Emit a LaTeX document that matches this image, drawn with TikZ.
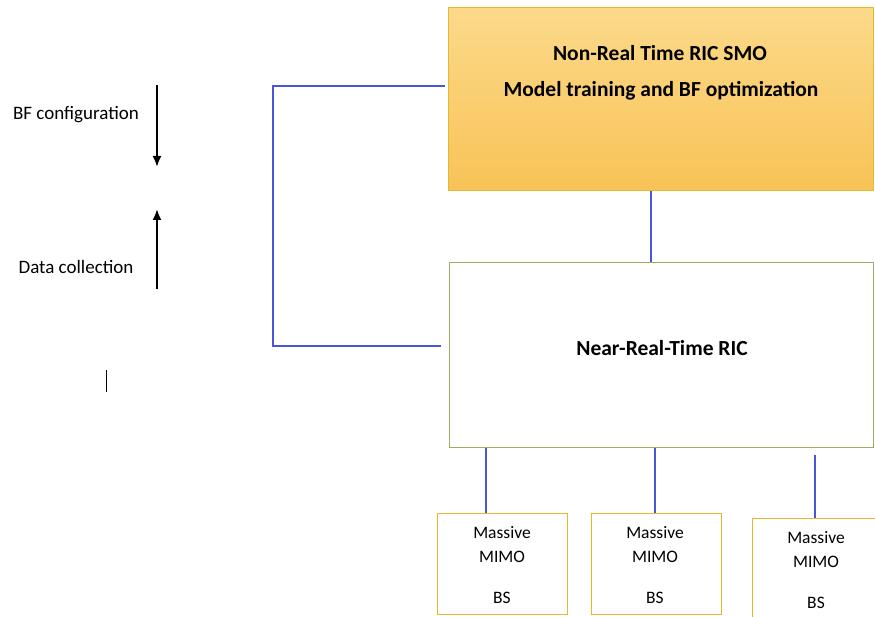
\documentclass[tikz,border=0pt]{standalone}
\usepackage{fontspec}
\setmainfont{Carlito}
\usetikzlibrary{arrows.meta}
\definecolor{smoTop}{HTML}{FCD98A}
\definecolor{smoBot}{HTML}{F8C357}
\definecolor{goldEdge}{HTML}{E9B72E}
\definecolor{oliveEdge}{HTML}{9AAE62}
\definecolor{linkBlue}{HTML}{4A56D8}
\begin{document}
\begin{tikzpicture}[x=1pt,y=-1pt,
  smobox/.style={draw=goldEdge,line width=1pt,top color=smoTop,bottom color=smoBot,
    minimum width=425pt,minimum height=183pt,inner sep=0pt,anchor=north west},
  ricbox/.style={draw=oliveEdge,line width=1pt,fill=white,
    minimum width=424pt,minimum height=185pt,inner sep=0pt,anchor=north west},
  bsbox/.style={draw=goldEdge,line width=1.2pt,fill=white,
    minimum width=130pt,minimum height=101pt,inner sep=0pt,anchor=north west},
  link/.style={draw=linkBlue,line width=1.1pt},
  flow/.style={draw=black,line width=2pt,-{Latex[length=11pt,width=9pt]}},
  boldtxt/.style={font=\fontsize{21.5}{25}\selectfont\bfseries},
  plain/.style={font=\fontsize{19}{22}\selectfont},
  bstxt/.style={font=\fontsize{17.5}{21}\selectfont}]
\useasboundingbox (0,0) rectangle (875,617);
\fill[white] (0,0) rectangle (875,617);

% boxes
\node[smobox] (smo) at (448,7) {};
\node[ricbox] (ric) at (449,262) {};
\node[bsbox] (bs1) at (437,513) {};
\node[bsbox] (bs2) at (591,513) {};
\node[bsbox,minimum width=126pt] (bs3) at (752,518) {};

% box texts
\node[boldtxt] (smo1) at (660,53) {Non-Real Time RIC SMO};
\node[boldtxt] (smo2) at (661,91) {Model training and BF optimization};
\node[boldtxt] (ricl) at (662,348) {Near-Real-Time RIC};
\foreach \b/\x/\y in {bs1/502/0,bs2/655/0,bs3/816/5}{
  \node[bstxt] (\b a) at (\x,533+\y) {Massive};
  \node[bstxt] (\b b) at (\x,557+\y) {MIMO};
  \node[bstxt] (\b c) at (\x,598+\y) {BS};
}

% links between layers
\draw[link] (smo.south -| 651,0) -- (ric.north -| 651,0);
\draw[link] (ric.south -| 486,0) -- (bs1.north -| 486,0);
\draw[link] (ric.south -| 655,0) -- (bs2.north -| 655,0);
\coordinate (r3) at (815,455);
\draw[link] (r3) -- (bs3.north -| r3);

% loop on the left joining SMO and near-RT RIC
\coordinate (l1) at (445,86);
\coordinate (l2) at (441,346);
\draw[link] (l1) -- (273,86) -- (273,346) -- (l2);

% flow arrows with labels
\coordinate (d0) at (157,85);
\coordinate (d1) at (157,167);
\coordinate (u0) at (157,289);
\coordinate (u1) at (157,209);
\draw[flow] (d0) -- (d1);
\draw[flow] (u0) -- (u1);
\node[plain] (bfc) at (76,115) {BF configuration};
\node[plain] (dc) at (76,267) {Data collection};

% short mark
\coordinate (m0) at (106,370);
\coordinate (m1) at (106,392);
\draw[line width=1pt] (m0) -- (m1);
\end{tikzpicture}
\end{document}
